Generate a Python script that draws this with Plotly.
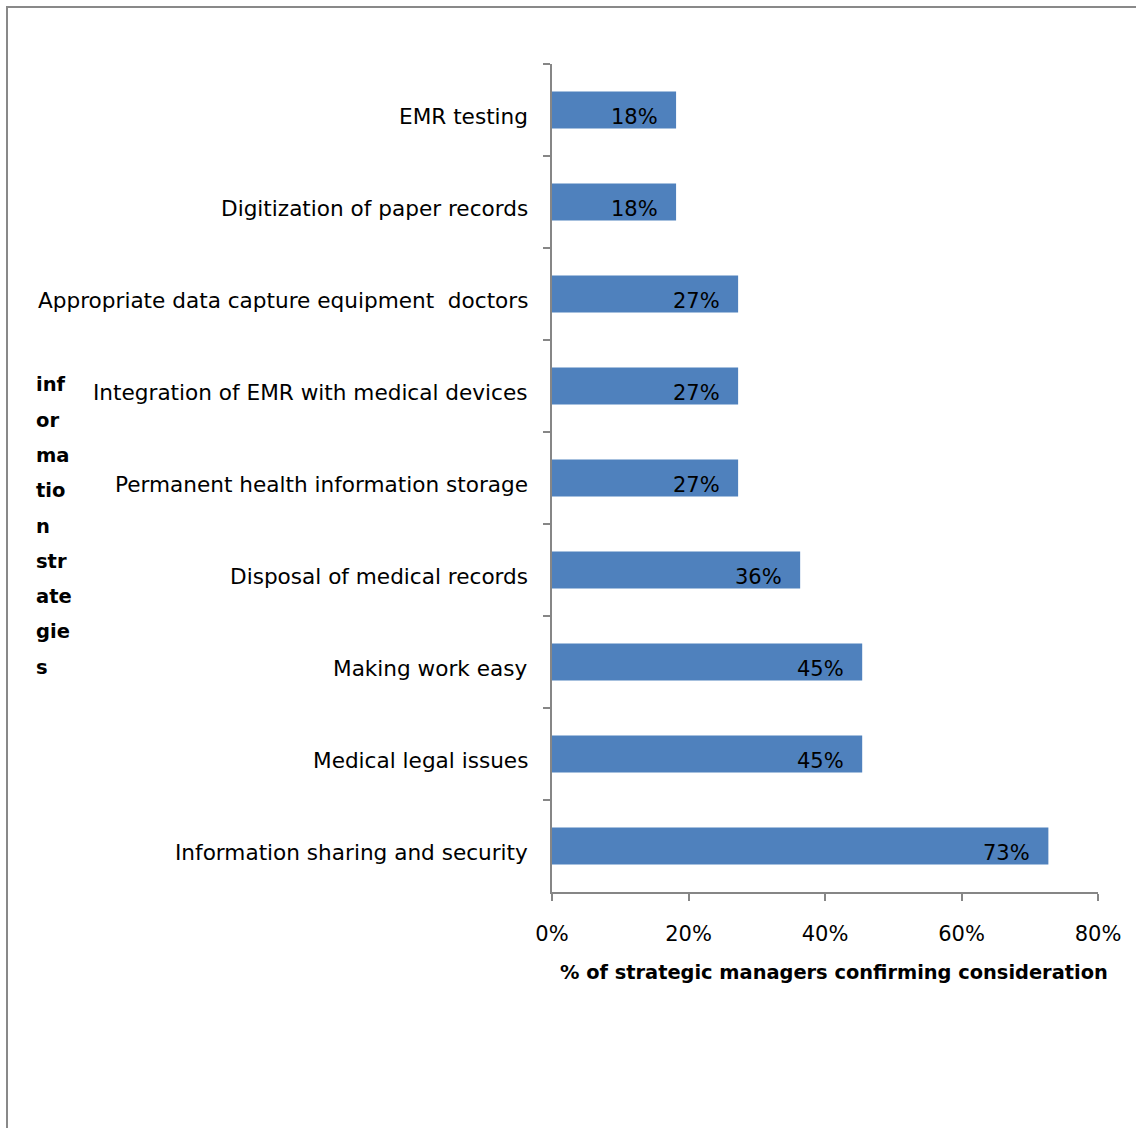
import plotly.graph_objects as go

categories = [
    "EMR testing",
    "Digitization of paper records",
    "Appropriate data capture equipment  doctors",
    "Integration of EMR with medical devices",
    "Permanent health information storage",
    "Disposal of medical records",
    "Making work easy",
    "Medical legal issues",
    "Information sharing and security",
]
values = [18.18, 18.18, 27.27, 27.27, 27.27, 36.36, 45.45, 45.45, 72.73]
x_ticks = [0, 20, 40, 60, 80]
x_tick_labels = ["0%", "20%", "40%", "60%", "80%"]
x_title = "% of strategic managers confirming consideration"
y_title_lines = ["inf", "or", "ma", "tio", "n", "str", "ate", "gie", "s"]

FONT = "DejaVu Sans"
FS = 21
W, H = 1136, 1128
L, R, T, B = 552, 38, 64, 236
pw, ph = W - L - R, H - T - B

fig = go.Figure(
    go.Bar(
        x=values,
        y=categories,
        orientation="h",
        marker=dict(color="#4F81BD", line=dict(width=0)),
        width=0.4,
        hoverinfo="skip",
    )
)

for c, v in zip(categories, values):
    # value label inside bar end
    fig.add_annotation(
        x=v, y=c, xref="x", yref="y",
        text=f"{round(v):d}%",
        showarrow=False, xanchor="right", yanchor="middle",
        xshift=-16, yshift=-7,
        font=dict(family=FONT, size=FS, color="#000000"),
    )
    # category label
    fig.add_annotation(
        x=0, y=c, xref="paper", yref="y",
        text=c,
        showarrow=False, xanchor="right", yanchor="middle",
        xshift=-22, yshift=-6,
        font=dict(family=FONT, size=21.6, color="#000000"),
    )

# y axis title (wrapped, one annotation per line)
for i, line in enumerate(y_title_lines):
    ypix = 385 + i * 35.25
    fig.add_annotation(
        x=(34 - L) / pw, y=1 - (ypix - T) / ph, xref="paper", yref="paper",
        text=line,
        showarrow=False, xanchor="left", yanchor="middle", align="left",
        font=dict(family=FONT, size=FS - 1.5, color="#000000", weight="bold"),
    )

# x axis title
fig.add_annotation(
    x=(834 - L) / pw, y=1 - (972 - T) / ph, xref="paper", yref="paper",
    text=x_title, showarrow=False, xanchor="center", yanchor="middle",
    font=dict(family=FONT, size=19.4, color="#000000", weight="bold"),
)

# outer border
fig.add_shape(
    type="rect", xref="paper", yref="paper",
    x0=(7 - L) / pw, x1=(1150 - L) / pw,
    y0=1 - (1140 - T) / ph, y1=1 + (T - 7) / ph,
    line=dict(color="#898989", width=2), fillcolor="rgba(0,0,0,0)",
    layer="below",
)

fig.update_layout(
    width=W, height=H,
    margin=dict(l=L, r=R, t=T, b=B, pad=0),
    paper_bgcolor="white", plot_bgcolor="white",
    showlegend=False,
    font=dict(family=FONT, size=FS, color="#000000"),
    xaxis=dict(
        range=[0, 80], tickvals=x_ticks, ticktext=x_tick_labels,
        showgrid=False, zeroline=False,
        showline=True, linecolor="#868686", linewidth=1.5,
        ticks="outside", ticklen=7, tickcolor="#868686", tickwidth=1.5,
        ticklabelstandoff=15,
        tickfont=dict(family=FONT, size=FS, color="#000000"),
    ),
    yaxis=dict(
        autorange="reversed", showgrid=False, zeroline=False,
        showline=True, linecolor="#868686", linewidth=1.5,
        ticks="outside", ticklen=7, tickcolor="#868686", tickwidth=1.5,
        tickson="boundaries", showticklabels=False,
    ),
    bargap=0.6,
)

fig.write_html("out.html")
